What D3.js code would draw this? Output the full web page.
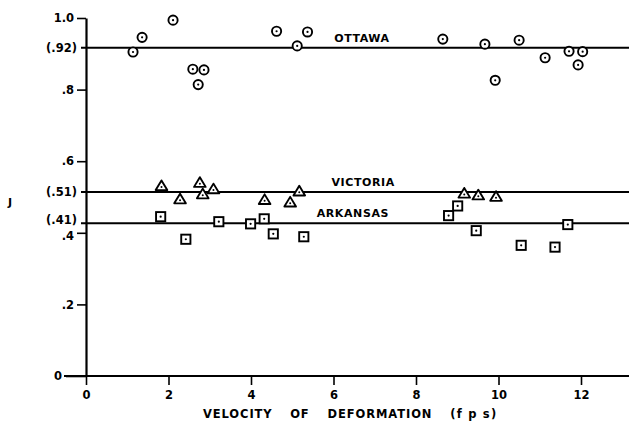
<!DOCTYPE html>
<html>
<head>
<meta charset="utf-8">
<title>J vs velocity of deformation</title>
<style>
body { margin: 0; background: #fff; }
text { font-family: "DejaVu Sans", sans-serif; font-weight: bold; fill: #000; }
</style>
<script src="https://d3js.org/d3.v7.min.js"></script>
</head>
<body>
<script>

// readings from the plot (x = velocity in fps, y = J)
const ottawaX = [1.14, 1.36, 2.11, 2.59, 2.86, 2.72, 4.62, 5.12, 5.37, 8.65, 9.67, 10.50, 9.92, 11.13, 11.71, 12.04, 11.93];
const ottawaY = [0.905, 0.946, 0.994, 0.857, 0.855, 0.814, 0.963, 0.922, 0.961, 0.941, 0.927, 0.938, 0.826, 0.889, 0.907, 0.906, 0.869];

const victoriaX = [1.83, 2.28, 2.76, 2.83, 3.09, 4.33, 4.95, 5.17, 9.17, 9.51, 9.94];
const victoriaY = [0.531, 0.494, 0.540, 0.508, 0.522, 0.492, 0.485, 0.516, 0.510, 0.505, 0.501];

const arkansasX = [1.81, 2.42, 3.22, 3.99, 4.32, 4.54, 5.28, 8.79, 9.01, 9.46, 10.55, 11.37, 11.68];
const arkansasY = [0.445, 0.382, 0.431, 0.425, 0.439, 0.397, 0.389, 0.448, 0.475, 0.406, 0.365, 0.360, 0.423];

// mean lines, as drawn, with their printed labels
const meanNames = ["OTTAWA", "VICTORIA", "ARKANSAS"];
const meanValues = [0.917, 0.514, 0.427];
const meanLabels = ["(.92)", "(.51)", "(.41)"];
const meanNameX = [6.69, 6.72, 6.47];

const xTicks = [0, 2, 4, 6, 8, 10, 12];
const yTicks = [0, 0.2, 0.4, 0.6, 0.8, 1.0];
const yTickLabels = ["0", ".2", ".4", ".6", ".8", "1.0"];

const xTitleWords = ["VELOCITY", "OF", "DEFORMATION", "(f p s)"];

const W = 629, H = 426;

let svg = d3.select("body").append("svg")
  .attr("width", W).attr("height", H);

let x = d3.scaleLinear().domain([0, 13.2]).range([86, 630.5]);
let y = d3.scaleLinear().domain([0, 1]).range([376, 18]);

// x axis
let xAxis = svg.append("g")
  .attr("transform", "translate(0," + y(0) + ")")
  .call(d3.axisBottom(x).tickValues(xTicks).tickFormat(d3.format("d")).tickSize(9).tickSizeOuter(0).tickPadding(6));
xAxis.select(".domain").remove();
xAxis.selectAll("line").attr("stroke-width", 1.6);
xAxis.selectAll("text").style("font-size", "11.5px").style("font-family", "DejaVu Sans").style("font-weight", "bold");

svg.append("line")
  .attr("x1", 64).attr("x2", W)
  .attr("y1", y(0)).attr("y2", y(0))
  .attr("stroke", "#000").attr("stroke-width", 2.2);

// y axis
let yAxis = svg.append("g")
  .attr("transform", "translate(" + x(0) + ",0)")
  .call(d3.axisLeft(y).tickValues(yTicks).tickFormat((d, i) => yTickLabels[i]).tickSize(9).tickSizeOuter(0).tickPadding(3));
yAxis.select(".domain").attr("stroke-width", 2.2);
yAxis.selectAll("line").attr("stroke-width", 1.6);
yAxis.selectAll("text").style("font-size", "11.5px").style("font-family", "DejaVu Sans").style("font-weight", "bold");
yAxis.selectAll(".tick").filter(d => d === 0).select("line").attr("x2", -20);
yAxis.selectAll(".tick").filter(d => d === 0).select("text").attr("x", -24);
yAxis.selectAll(".tick").filter(d => d === 0.4).select("text").attr("dy", "0.55em");

// mean lines
meanValues.forEach((v, i) => {
  svg.append("line")
    .attr("x1", x(0) - 5).attr("x2", W)
    .attr("y1", y(v)).attr("y2", y(v))
    .attr("stroke", "#000").attr("stroke-width", 2);
  svg.append("text")
    .attr("x", x(0) - 9).attr("y", y(v))
    .attr("dy", i === 2 ? "0.05em" : "0.35em")
    .attr("text-anchor", "end")
    .style("font-size", "11.5px")
    .text(meanLabels[i]);
  svg.append("text")
    .attr("x", x(meanNameX[i])).attr("y", y(v) - 6)
    .attr("text-anchor", "middle")
    .style("font-size", "11px")
    .attr("letter-spacing", "0.6")
    .text(meanNames[i]);
});

// Ottawa: dotted circles
let circ = svg.append("g").selectAll("g").data(d3.zip(ottawaX, ottawaY)).join("g")
  .attr("transform", d => "translate(" + x(d[0]) + "," + y(d[1]) + ")");
circ.append("circle").attr("r", 4.6).attr("fill", "#fff").attr("stroke", "#000").attr("stroke-width", 1.9);
circ.append("circle").attr("r", 1.1).attr("fill", "#000");

// Victoria: triangles
let tri = svg.append("g").selectAll("g").data(d3.zip(victoriaX, victoriaY)).join("g")
  .attr("transform", d => "translate(" + x(d[0]) + "," + y(d[1]) + ")");
tri.append("path")
  .attr("d", "M0,-5.5L5.8,4.2L-5.8,4.2Z")
  .attr("fill", "#fff").attr("stroke", "#000").attr("stroke-width", 1.9).attr("stroke-linejoin", "round");
tri.append("circle").attr("cy", 1).attr("r", 1).attr("fill", "#000");

// Arkansas: dotted squares
let sq = svg.append("g").selectAll("g").data(d3.zip(arkansasX, arkansasY)).join("g")
  .attr("transform", d => "translate(" + x(d[0]) + "," + y(d[1]) + ")");
sq.append("rect")
  .attr("x", -4.6).attr("y", -4.6).attr("width", 9.2).attr("height", 9.2)
  .attr("fill", "#fff").attr("stroke", "#000").attr("stroke-width", 1.9);
sq.append("circle").attr("r", 1.1).attr("fill", "#000");

// axis titles
svg.append("text")
  .attr("x", 10).attr("y", 206)
  .attr("text-anchor", "middle")
  .style("font-size", "11px")
  .text("J");

svg.append("text")
  .attr("x", 203).attr("y", 418)
  .style("font-size", "11.5px")
  .attr("letter-spacing", "0.9")
  .selectAll("tspan").data(xTitleWords).join("tspan")
  .attr("dx", (d, i) => i === 0 ? 0 : 18)
  .attr("letter-spacing", d => d.startsWith("(") ? "1.2" : "0.9")
  .text(d => d);

</script>
</body>
</html>
